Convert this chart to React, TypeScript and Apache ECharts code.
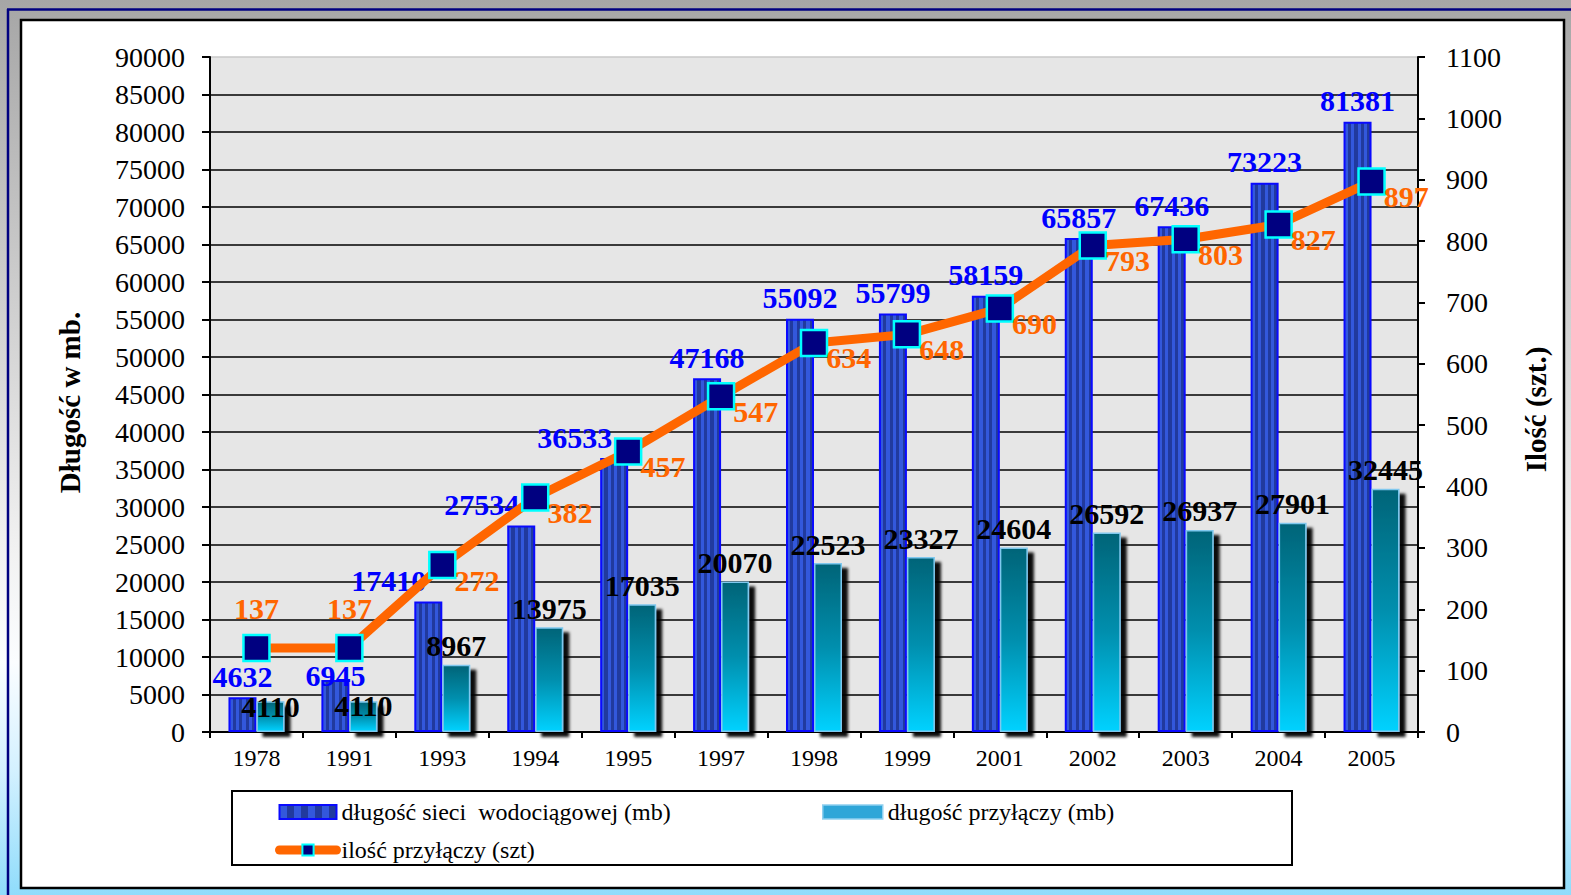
import React, { useEffect, useRef } from "react";
import * as echarts from "echarts";

const categories = ["1978", "1991", "1993", "1994", "1995", "1997", "1998", "1999", "2001", "2002", "2003", "2004", "2005"];
const networkLength = [4632, 6945, 17410, 27534, 36533, 47168, 55092, 55799, 58159, 65857, 67436, 73223, 81381];
const connectionLength = [4110, 4110, 8967, 13975, 17035, 20070, 22523, 23327, 24604, 26592, 26937, 27901, 32445];
const connectionCount = [137, 137, 272, 382, 457, 547, 634, 648, 690, 793, 803, 827, 897];

const seriesNames = ["długość sieci  wodociągowej (mb)", "długość przyłączy (mb)", "ilość przyłączy (szt)"];
const leftTitle = "Długość w mb.";
const rightTitle = "Ilość (szt.)";

const SERIF = "'Liberation Serif', 'Times New Roman', serif";

// A point on a flat stretch of the line gets its label above the marker.
const lineLabelAbove = (i: number) =>
  connectionCount[i] === connectionCount[i - 1] || connectionCount[i] === connectionCount[i + 1];

export default function App() {
  const ref = useRef<HTMLDivElement>(null);
  useEffect(() => {
    if (!ref.current) return;
    const chart = echarts.init(ref.current, null, { renderer: "svg" });

    const stripeStops: any[] = [];
    const n = 8;
    for (let i = 0; i < n; i++) {
      const c = i % 2 === 0 ? "#3358dc" : "#213a9e";
      stripeStops.push({ offset: i / n, color: c });
      stripeStops.push({ offset: (i + 1) / n, color: c });
    }
    const blueFill = new echarts.graphic.LinearGradient(0, 0, 1, 0, stripeStops);
    const tealFill = new echarts.graphic.LinearGradient(0, 0, 0, 1, [
      { offset: 0, color: "#006478" },
      { offset: 0.5, color: "#008fae" },
      { offset: 1, color: "#00d2ff" },
    ]);

    const splitColors = Array.from({ length: 19 }, (_, i) => (i === 18 ? "#c8c8c8" : "#000000"));

    const MARK = 26;
    const BLUE_DIST = 6;

    const overlaps = (a: any, b: any) =>
      a.x < b.x + b.width && a.x + a.width > b.x && a.y < b.y + b.height && a.y + a.height > b.y;

    const blueRects: Record<number, any> = {};

    // Move a blue (network) label off the line marker when they collide.
    const blueLayout = (p: any) => {
      const idx = p.dataIndex;
      const lr = p.labelRect;
      let dx = 0;
      let dy = 0;
      try {
        const m = chart.convertToPixel({ seriesIndex: 2 }, [idx, connectionCount[idx]]) as number[];
        const half = MARK / 2;
        const mr = { x: m[0] - half, y: m[1] - half, width: 2 * half, height: 2 * half };
        if (overlaps(lr, mr)) {
          if (lineLabelAbove(idx)) dy = mr.y + mr.height - lr.y;
          else dx = mr.x - 3 - (lr.x + lr.width);
        }
      } catch (e) {}
      blueRects[idx] = { x: lr.x + dx, y: lr.y + dy, width: lr.width, height: lr.height };
      return { dx, dy };
    };

    // Push a connection-length label below the network label when they collide.
    const tealLayout = (p: any) => {
      const idx = p.dataIndex;
      const lr = p.labelRect;
      const br = blueRects[idx];
      if (br && overlaps(lr, br)) {
        return { dy: br.y + br.height - lr.y };
      }
      return {};
    };

    const option: any = {
      animation: false,
      textStyle: { fontFamily: SERIF },
      graphic: [
        {
          type: "rect",
          z: -100,
          shape: { x: 0, y: 0, width: 1571, height: 895 },
          style: {
            fill: new echarts.graphic.LinearGradient(0, 0, 0, 1, [
              { offset: 0, color: "#a6a6a6" },
              { offset: 0.25, color: "#c4c4c4" },
              { offset: 0.62, color: "#f2f2f2" },
              { offset: 0.74, color: "#fbfdff" },
              { offset: 0.86, color: "#d4f1ff" },
              { offset: 1, color: "#8fdcfb" },
            ]),
          },
        },
        {
          type: "line",
          z: -99,
          shape: { x1: 7, y1: 9.5, x2: 1571, y2: 9.5 },
          style: { stroke: "#000080", lineWidth: 2.5 },
        },
        {
          type: "line",
          z: -99,
          shape: { x1: 8, y1: 9, x2: 8, y2: 895 },
          style: { stroke: "#000080", lineWidth: 2.5 },
        },
        {
          type: "rect",
          z: -98,
          shape: { x: 21, y: 20, width: 1543, height: 868 },
          style: { fill: "#ffffff", stroke: "#000000", lineWidth: 2.5 },
        },
        {
          type: "rect",
          z: 1,
          shape: { x: 232, y: 791, width: 1060, height: 74 },
          style: { fill: "none", stroke: "#000000", lineWidth: 2 },
        },
      ],
      legend: [
        {
          orient: "vertical",
          left: 275,
          top: 800,
          padding: 0,
          itemGap: 14,
          itemWidth: 57,
          itemHeight: 14,
          lineStyle: { width: 9 },
          data: [{ name: seriesNames[0], icon: "rect" }, { name: seriesNames[2] }],
          textStyle: { fontFamily: SERIF, fontSize: 24, color: "#000" },
        },
        {
          orient: "vertical",
          left: 822,
          top: 800,
          padding: 0,
          itemWidth: 60,
          itemHeight: 14,
          data: [
            {
              name: seriesNames[1],
              icon: "rect",
              itemStyle: { color: "#2fa6d8", borderColor: "#8fd0f0", borderWidth: 1.5, shadowBlur: 0, shadowOffsetX: 0, shadowOffsetY: 0 },
            },
          ],
          textStyle: { fontFamily: SERIF, fontSize: 24, color: "#000" },
        },
      ],
      grid: {
        left: 210,
        right: 153,
        top: 57,
        bottom: 163,
        show: true,
        backgroundColor: "#e6e6e6",
        borderWidth: 0,
      },
      xAxis: {
        type: "category",
        data: categories,
        axisLine: { lineStyle: { color: "#000", width: 2 } },
        axisTick: { show: true, length: 6, lineStyle: { color: "#000", width: 2 } },
        axisLabel: { color: "#000", fontSize: 24, fontFamily: SERIF, margin: 14 },
      },
      yAxis: [
        {
          type: "value",
          min: 0,
          max: 90000,
          interval: 5000,
          name: leftTitle,
          nameLocation: "middle",
          nameGap: 126,
          nameTextStyle: {
            fontFamily: SERIF,
            fontSize: 29,
            fontWeight: "bold",
            color: "#000",
            padding: [0, 16, 0, 0],
          },
          axisLine: { show: true, lineStyle: { color: "#000", width: 2 } },
          axisTick: { show: true, length: 8, lineStyle: { color: "#000", width: 2 } },
          axisLabel: {
            color: "#000",
            fontSize: 28,
            fontFamily: SERIF,
            margin: 25,
            formatter: (v: number) => String(v),
          },
          splitLine: { show: true, lineStyle: { color: splitColors, width: 1.6 } },
        },
        {
          type: "value",
          min: 0,
          max: 1100,
          interval: 100,
          position: "right",
          name: rightTitle,
          nameLocation: "middle",
          nameGap: 103,
          nameRotate: 90,
          nameTextStyle: {
            fontFamily: SERIF,
            fontSize: 29,
            fontWeight: "bold",
            color: "#000",
            padding: [0, 30, 0, 0],
          },
          axisLine: { show: true, lineStyle: { color: "#000", width: 2 } },
          axisTick: { show: true, length: 7, lineStyle: { color: "#000", width: 2 } },
          axisLabel: {
            color: "#000",
            fontSize: 28,
            fontFamily: SERIF,
            margin: 28,
            formatter: (v: number) => String(v),
          },
          splitLine: { show: false },
        },
      ],
      series: [
        {
          name: seriesNames[0],
          type: "bar",
          data: networkLength,
          barWidth: 28,
          barGap: "0%",
          itemStyle: { color: blueFill, borderColor: "#0a0aff", borderWidth: 2 },
          label: {
            show: true,
            position: "top",
            distance: BLUE_DIST,
            color: "#0000ff",
            fontSize: 30,
            fontWeight: "bold",
            fontFamily: SERIF,
          },
          labelLayout: blueLayout,
        },
        {
          name: seriesNames[1],
          type: "bar",
          data: connectionLength,
          barWidth: 28,
          barGap: "0%",
          itemStyle: {
            color: tealFill,
            borderColor: "#7fc8ee",
            borderWidth: 1.5,
            shadowColor: "rgba(0,0,0,0.95)",
            shadowBlur: 3,
            shadowOffsetX: 6,
            shadowOffsetY: 5,
          },
          label: {
            show: true,
            position: "top",
            distance: 4,
            offset: [16, 0],
            color: "#000",
            fontSize: 30,
            fontWeight: "bold",
            fontFamily: SERIF,
          },
          labelLayout: tealLayout,
        },
        {
          name: seriesNames[2],
          type: "line",
          yAxisIndex: 1,
          data: connectionCount.map((v, i) =>
            lineLabelAbove(i) ? { value: v, label: { position: "top", offset: [0, 0], distance: 10 } } : v
          ),
          symbol: "rect",
          symbolSize: MARK,
          z: 3,
          lineStyle: { color: "#ff6600", width: 9, cap: "round" },
          itemStyle: { color: "#000080", borderColor: "#00ffff", borderWidth: 2.5 },
          label: {
            show: true,
            position: "right",
            distance: 0,
            offset: [-2, 15],
            color: "#ff6600",
            fontSize: 30,
            fontWeight: "bold",
            fontFamily: SERIF,
          },
        },
      ],
    };
    chart.setOption(option);
    return () => chart.dispose();
  }, []);
  return <div ref={ref} style={{ position: "absolute", left: 0, top: 0, width: 1571, height: 895 }} />;
}
